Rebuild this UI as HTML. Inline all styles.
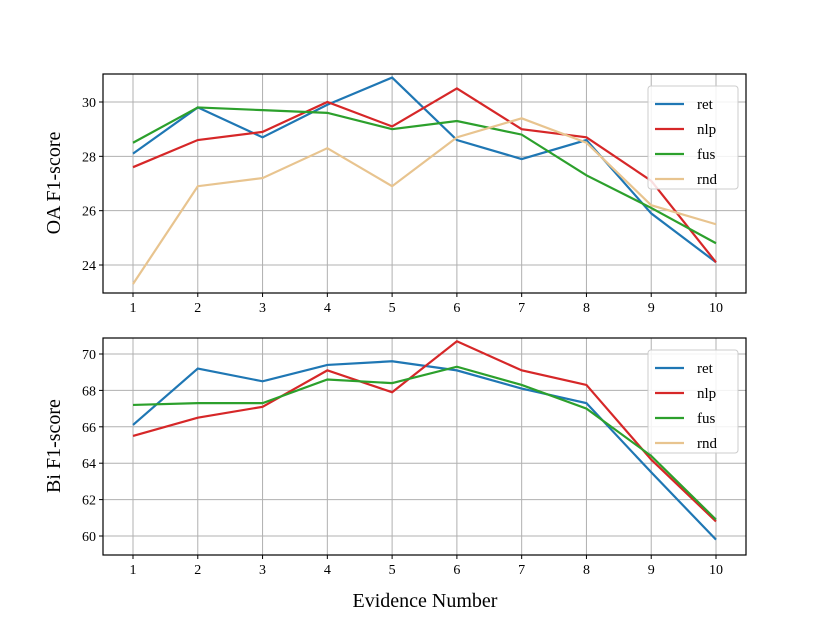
<!DOCTYPE html>
<html><head><meta charset="utf-8"><style>
body{margin:0;background:#fff}
svg text{font-family:"Liberation Serif",serif;fill:#000}
</style></head><body>
<svg id="chart" width="830" height="623" xmlns="http://www.w3.org/2000/svg"></svg>
<script>
const categories=[1,2,3,4,5,6,7,8,9,10];
const topRet=[28.1,29.8,28.7,29.9,30.9,28.6,27.9,28.6,25.9,24.1];
const topNlp=[27.6,28.6,28.9,30.0,29.1,30.5,29.0,28.7,27.1,24.1];
const topFus=[28.5,29.8,29.7,29.6,29.0,29.3,28.8,27.3,26.1,24.8];
const topRnd=[23.3,26.9,27.2,28.3,26.9,28.7,29.4,28.5,26.2,25.5];
const botRet=[66.1,69.2,68.5,69.4,69.6,69.1,68.1,67.3,63.5,59.8];
const botNlp=[65.5,66.5,67.1,69.1,67.9,70.7,69.1,68.3,64.2,60.8];
const botFus=[67.2,67.3,67.3,68.6,68.4,69.3,68.3,67.0,64.4,60.9];
const botRnd=[];
const topTicks=[24,26,28,30];
const botTicks=[60,62,64,66,68,70];
const seriesNames=["ret","nlp","fus","rnd"];
const colors=["#1f77b4","#d62728","#2ca02c","#e8c48f"];
const svg=document.getElementById('chart');
const NS="http://www.w3.org/2000/svg";
function mk(t,a,p){const e=document.createElementNS(NS,t);for(const k in a)e.setAttribute(k,a[k]);(p||svg).appendChild(e);return e;}
const xL=103,xR=746;
function xs(v){return 133+(v-1)*(716-133)/9;}
function panel(name,top,bot,y0v,y0p,y1v,y1p,ticks,data,label,lx,ly){
  const g=mk('g',{});
  
  
  const ys=v=>y0p+(v-y0v)*(y1p-y0p)/(y1v-y0v);
  categories.forEach(c=>{const l=mk('line',{x1:xs(c),x2:xs(c),y1:top,y2:bot,stroke:'#b0b0b0','stroke-width':1},g);
    
    mk('line',{x1:xs(c),x2:xs(c),y1:bot,y2:bot+4,stroke:'#000'},g);
    const t=mk('text',{x:xs(c),y:bot+19,'font-size':14,'text-anchor':'middle'},g);t.textContent=c;
    });
  ticks.forEach(v=>{const y=ys(v);const l=mk('line',{x1:xL,x2:xR,y1:y,y2:y,stroke:'#b0b0b0','stroke-width':1},g);
    
    mk('line',{x1:xL-4,x2:xL,y1:y,y2:y,stroke:'#000'},g);
    const t=mk('text',{x:xL-7,y:y+5,'font-size':14,'text-anchor':'end'},g);t.textContent=v;
    });
  data.forEach((d,i)=>{if(!d.length)return;
    const p=mk('polyline',{points:d.map((v,j)=>xs(categories[j])+','+ys(v)).join(' '),fill:'none',stroke:colors[i],'stroke-width':2.2},g);
    });
  const fr=mk('rect',{x:xL,y:top,width:xR-xL,height:bot-top,fill:'none',stroke:'#000','stroke-width':1.2},g);
  
  const yl=mk('text',{x:lx,y:ly,'font-size':20,'text-anchor':'middle',transform:`rotate(-90 ${lx} ${ly})`},g);
  yl.textContent=label;
  const lg=mk('g',{},g);
  mk('rect',{x:648,y:top+12,width:90,height:103,rx:3,fill:'#fff','fill-opacity':0.85,stroke:'#ccc'},lg);
  seriesNames.forEach((n,i)=>{const y=top+30+i*25;
    const e=mk('g',{},lg);
    mk('line',{x1:655,x2:684,y1:y,y2:y,stroke:colors[i],'stroke-width':2.2},e);
    const t=mk('text',{x:697,y:y+5,'font-size':15},e);t.textContent=n;});
}
panel('top-panel',74,293,30,102,24,265,topTicks,[topRet,topNlp,topFus,topRnd],'OA F1-score',60,183);
panel('bottom-panel',338,555,70,354,60,536,botTicks,[botRet,botNlp,botFus,botRnd],'Bi F1-score',60,446);
const xt=mk('text',{x:425,y:607,'font-size':20,'text-anchor':'middle'});
xt.textContent='Evidence Number';


</script>
</body></html>
